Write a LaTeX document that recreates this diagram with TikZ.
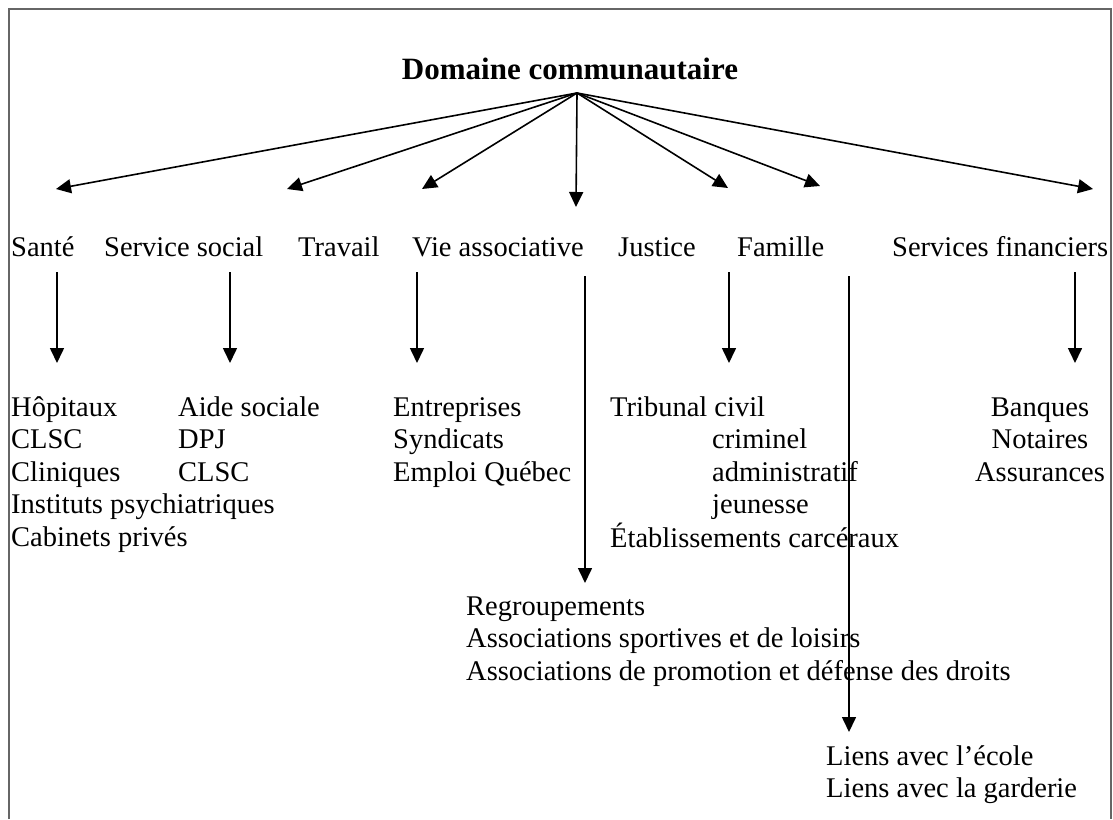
\documentclass[tikz,border=0pt]{standalone}
\usepackage{fontspec}
\setmainfont{Liberation Serif}
\usetikzlibrary{arrows.meta}
\tikzset{
  conn/.style={line width=1.6pt, -{Triangle[length=15pt,width=14pt]}},
  lbl/.style={inner sep=0pt, anchor=base west, font=\fontsize{28.5}{32.5}\selectfont},
  blk/.style={inner sep=0pt, anchor=base west, font=\fontsize{28.5}{32.5}\selectfont},
  frame/.style={draw=black!60, line width=1.8pt}
}
\begin{document}
\begin{tikzpicture}[x=1pt,y=-1pt]
\useasboundingbox (0,0) rectangle (1113,819);
\draw[frame] (9,819) -- (9,9) -- (1111,9) -- (1111,819);

\node[inner sep=0pt, anchor=base, font=\fontsize{31}{35}\selectfont\bfseries] (title) at (570,79) {Domaine communautaire};
\coordinate (apex) at (577,93);

% category labels
\node[lbl] (sante) at (11,256) {Santé};
\node[lbl] (social) at (104,256) {Service social};
\node[lbl] (travail) at (298,256) {Travail};
\node[lbl] (vie) at (412,256) {Vie associative};
\node[lbl] (justice) at (618,256) {Justice};
\node[lbl] (famille) at (737,256) {Famille};
\node[lbl] (fin) at (892,256) {Services financiers};

% arrow tips from apex
\coordinate (t1) at (56,189);
\coordinate (t2) at (287,189);
\coordinate (t3) at (422,189);
\coordinate (t4) at (576,207);
\coordinate (t5) at (728,188);
\coordinate (t6) at (820,186);
\coordinate (t7) at (1093,189);
\foreach \t in {t1,t2,t3,t4,t5,t6,t7} \draw[conn] (apex) -- (\t);

% sub blocks
\node[blk] (b1) at (11,416) {\begin{tabular}[t]{@{}l@{}}Hôpitaux\\CLSC\\Cliniques\\Instituts psychiatriques\\Cabinets privés\end{tabular}};
\node[blk] (b2) at (178,416) {\begin{tabular}[t]{@{}l@{}}Aide sociale\\DPJ\\CLSC\end{tabular}};
\node[blk] (b3) at (393,416) {\begin{tabular}[t]{@{}l@{}}Entreprises\\Syndicats\\Emploi Québec\end{tabular}};
\node[blk] (b4) at (610,416) {\begin{tabular}[t]{@{}l@{}}Tribunal civil\\\hspace{102pt}criminel\\\hspace{102pt}administratif\\\hspace{102pt}jeunesse\\Établissements carcéraux\end{tabular}};
\node[blk, anchor=base] (b5) at (1040,416) {\begin{tabular}[t]{@{}c@{}}Banques\\Notaires\\Assurances\end{tabular}};
\node[blk] (b6) at (466,615) {\begin{tabular}[t]{@{}l@{}}Regroupements\\Associations sportives et de loisirs\\Associations de promotion et défense des droits\end{tabular}};
\node[blk] (b7) at (826,765) {\begin{tabular}[t]{@{}l@{}}Liens avec l’école\\Liens avec la garderie\end{tabular}};

% vertical connectors
\coordinate (s1) at (57,272);   \coordinate (e1) at (57,363);
\coordinate (s2) at (230,272);  \coordinate (e2) at (230,363);
\coordinate (s3) at (417,272);  \coordinate (e3) at (417,363);
\coordinate (s4) at (729,272);  \coordinate (e4) at (729,363);
\coordinate (s5) at (1075,272); \coordinate (e5) at (1075,363);
\coordinate (s6) at (585,276);  \coordinate (e6) at (585,583);
\coordinate (s7) at (849,276);  \coordinate (e7) at (849,732);
\foreach \i in {1,...,7} \draw[conn] (s\i) -- (e\i);
\end{tikzpicture}
\end{document}
